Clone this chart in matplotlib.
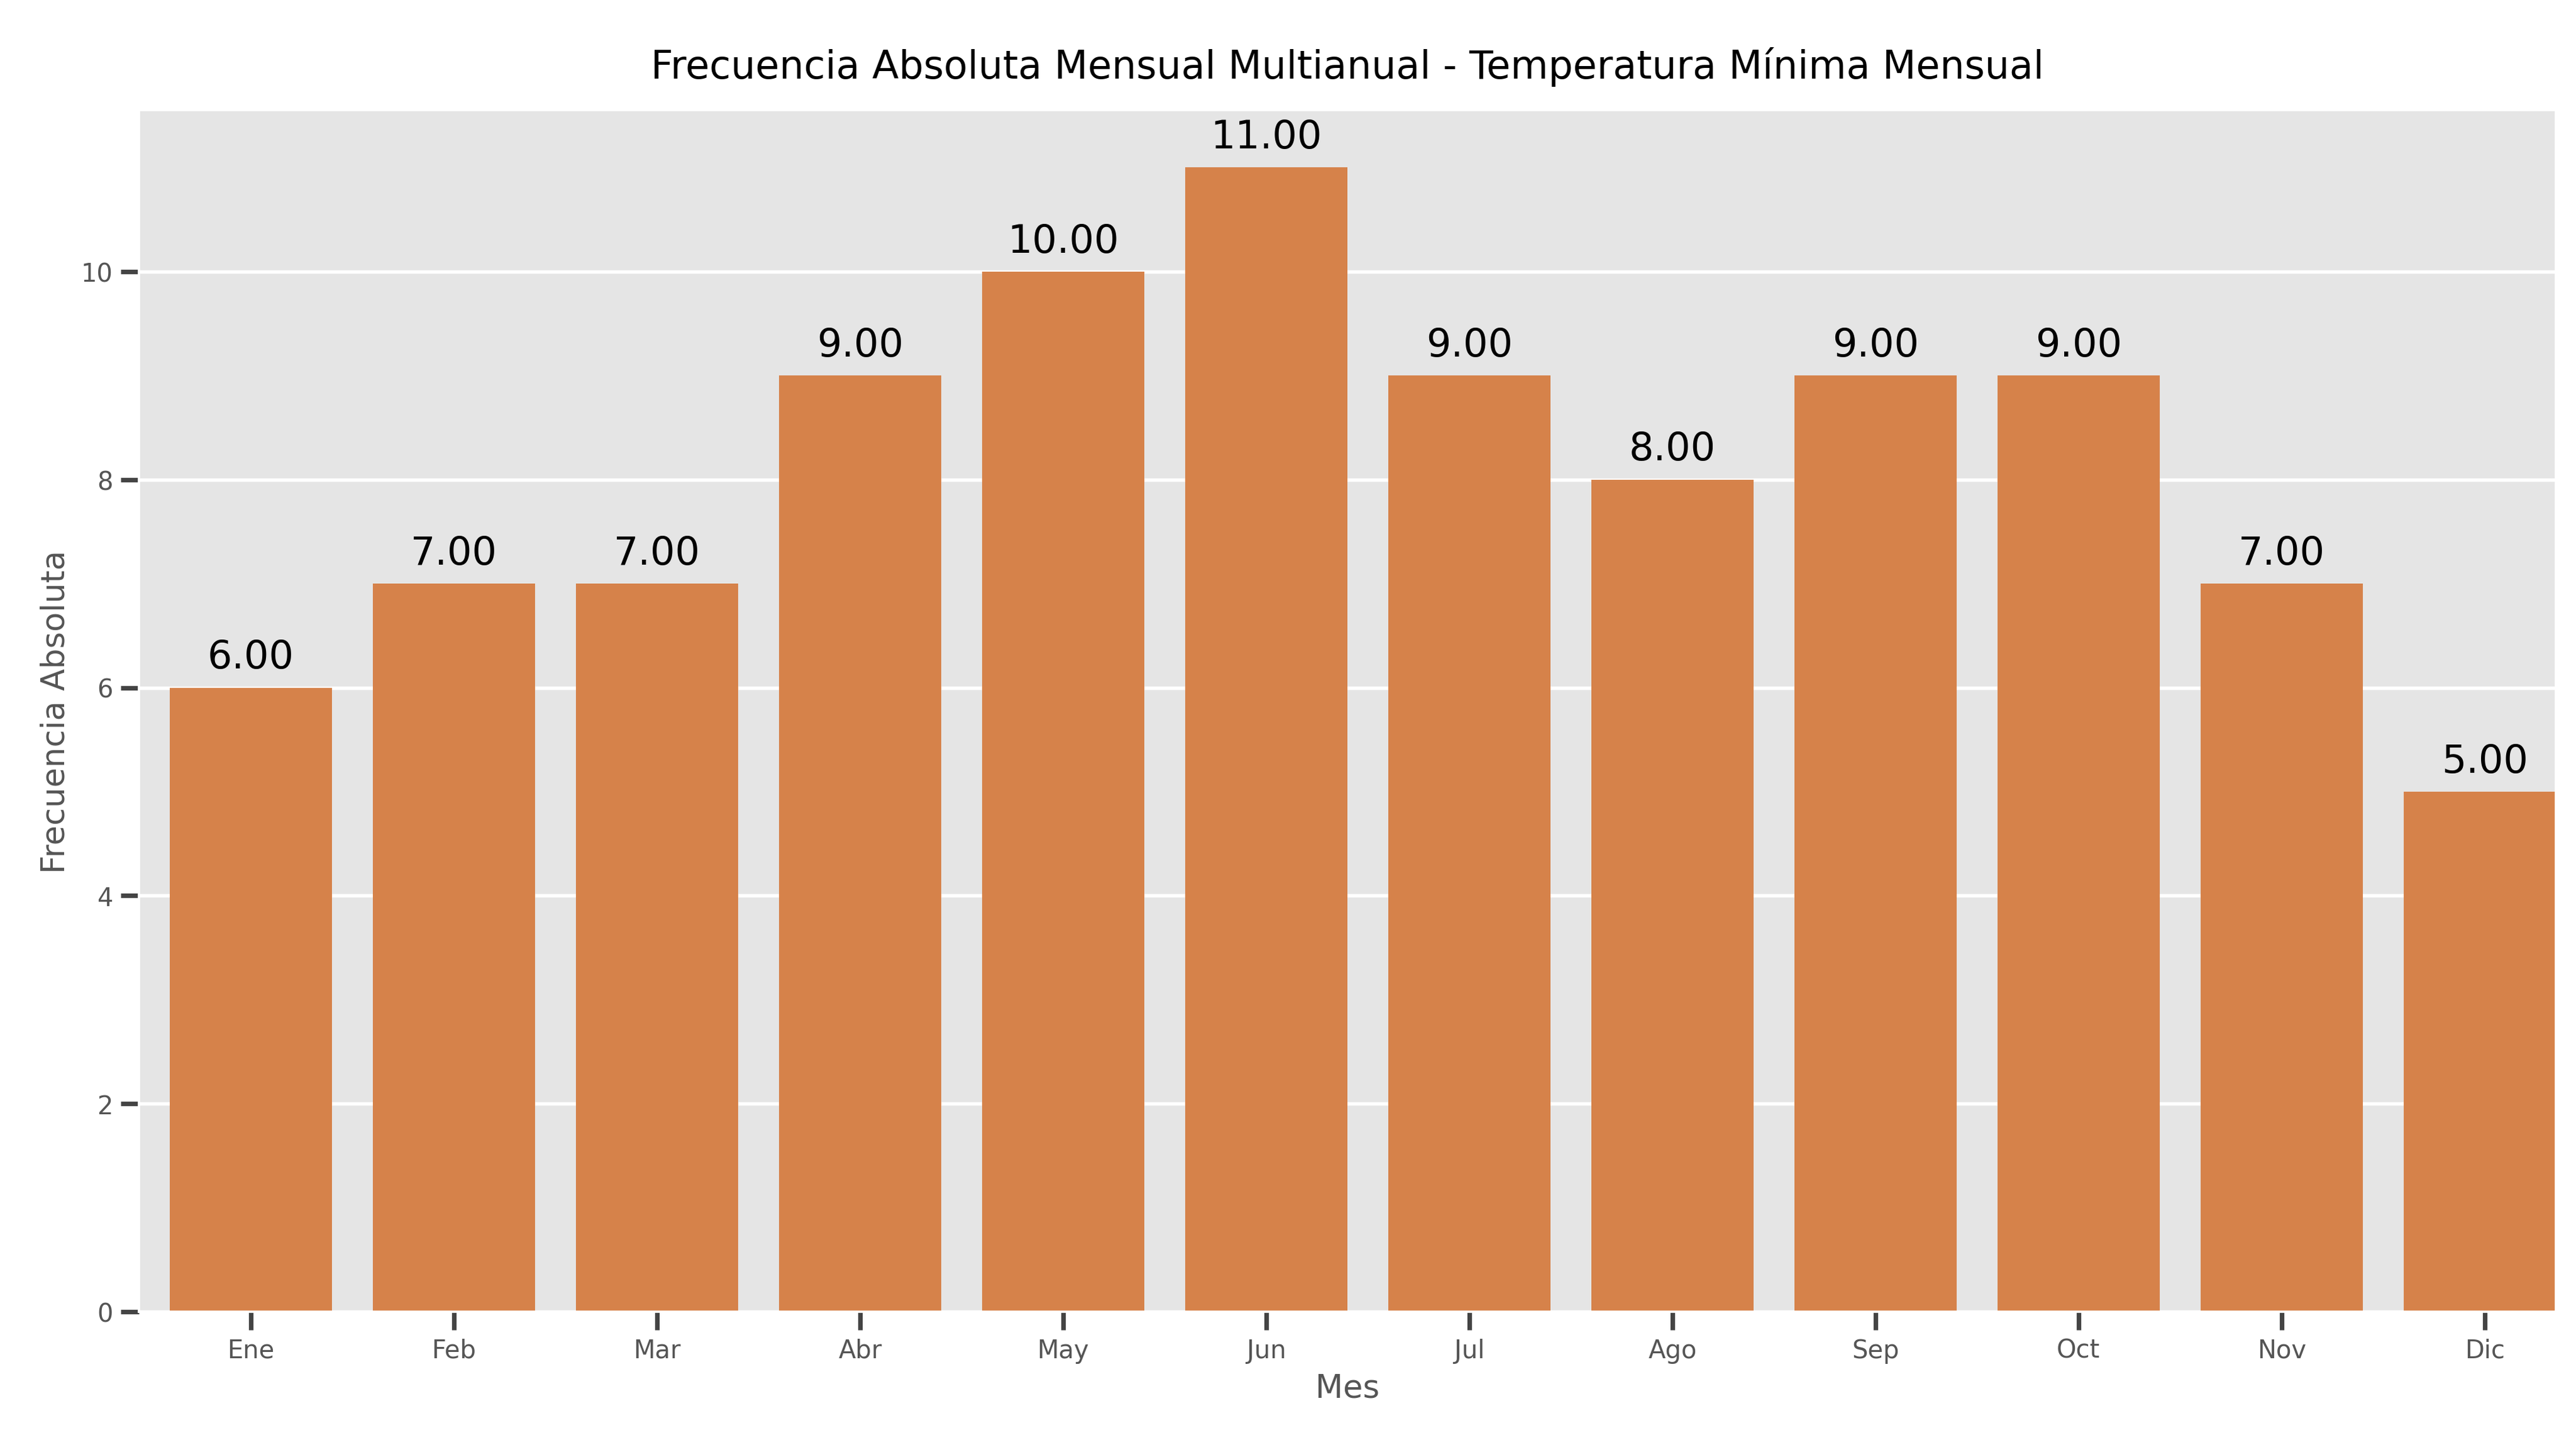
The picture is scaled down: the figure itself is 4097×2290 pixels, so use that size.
import matplotlib
matplotlib.use('Agg')
import matplotlib.pyplot as plt

meses = ['Ene', 'Feb', 'Mar', 'Abr', 'May', 'Jun', 'Jul', 'Ago', 'Sep', 'Oct', 'Nov', 'Dic']
frecuencia = [6, 7, 7, 9, 10, 11, 9, 8, 9, 9, 7, 5]

plt.style.use('ggplot')
fig = plt.figure(figsize=(15.64, 8.744), dpi=262)
ax = fig.add_axes([0.054, 0.089, 0.938, 0.834])

bars = ax.bar(meses, frecuencia, width=0.8, color='#d6824a')
for b, v in zip(bars, frecuencia):
    ax.annotate(f'{v:.2f}', (b.get_x() + b.get_width() / 2, v),
                xytext=(0, 5), textcoords='offset points',
                ha='center', va='bottom', fontsize=17, color='black')

ax.set_xlim(-0.55, 11.35)
ax.set_ylim(0, 11.55)
ax.grid(axis='x', visible=False)
ax.grid(axis='y', color='white', linewidth=1.5)
ax.set_axisbelow(True)
ax.tick_params(axis='both', direction='out', length=8, width=2, color='#444444',
               labelsize=11, labelcolor='#555555')
ax.set_title('Frecuencia Absoluta Mensual Multianual - Temperatura Mínima Mensual',
             fontsize=17, color='black', pad=14)
ax.set_xlabel('Mes', fontsize=14, color='#555555')
ax.set_ylabel('Frecuencia Absoluta', fontsize=14, color='#555555')

fig.savefig('out.png')
